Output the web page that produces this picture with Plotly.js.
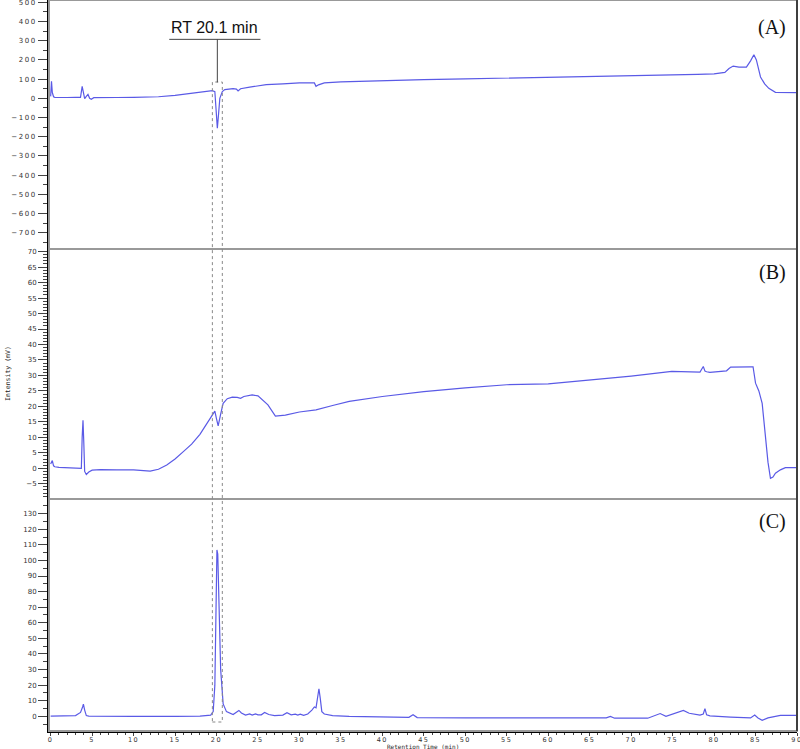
<!DOCTYPE html>
<html>
<head>
<meta charset="utf-8">
<script src="https://cdn.plot.ly/plotly-3.0.1.min.js"></script>
<style>
html,body{margin:0;padding:0;background:#fff;}
#chart{width:800px;height:749px;}
.xtick text,.ytick text{letter-spacing:1.5px;}
</style>
</head>
<body>
<div id="chart"></div>
<script>
// Panel A
const tA = [0,0.1,0.2,0.35,0.5,1,2,3,3.6,3.8,3.95,4.1,4.3,4.5,4.7,4.9,5.2,6,8,10,12,13,15,17,18.5,19.5,19.8,19.95,20.1,20.25,20.4,20.7,21,22,22.4,22.6,22.9,24,26,28,30,31.8,32,32.3,33,35,40,45,50,55,60,65,70,75,78,80,81.3,81.8,82.3,83,83.9,84.4,84.8,85.1,85.6,86.1,86.6,87.4,88,90];
const vA = [10,88,30,8,5,4,4,5,5,62,30,-2,10,20,0,-5,3,4,4,5,6,8,15,25,32,40,35,-60,-156,-80,0,35,45,50,48,38,50,58,71,75,80,80,62,70,80,85,92,97,101,105,109,112,115,120,125,127,135,155,168,162,162,195,227,200,111,75,52,31,30,30];
// Panel B
const tB = [0,0.2,0.35,0.5,1,2,3,3.7,3.8,3.9,4.0,4.1,4.3,4.6,5,6,8,10,12,13,14,15,16,17,18,19,19.8,20.0,20.2,20.5,20.8,21.3,21.9,22.5,22.9,23.3,24.3,25.0,25.5,26.2,27.1,28.3,30,32,34,36,40,45,50,55,60,65,66,70,74.9,78.3,78.7,78.9,79.1,79.5,81.5,82,84.4,84.7,85,85.4,85.8,86.2,86.5,86.8,87.1,87.4,88,88.6,90];
const vB = [1.4,2.5,0.8,0.5,0.3,0.1,-0.1,0,10,15.5,8,-1,-2,-1.2,-0.6,-0.4,-0.5,-0.5,-0.9,-0.3,1.1,3.0,5.4,7.8,11,15,18.5,16,13.7,17.5,21,22.5,23,22.9,22.6,23.2,23.7,23.4,22.1,20.5,16.9,17.2,18.2,18.9,20.3,21.6,23.2,24.8,26,27,27.3,28.5,28.9,29.8,31.3,31.1,32.9,31.4,31.2,31.0,31.5,32.7,32.8,32.8,27.5,25,21,10.2,2,-3.2,-2.8,-1.6,-0.5,0.2,0.2];
// Panel C
const tC = [0,2,3,3.3,3.6,3.85,3.95,4.1,4.3,4.6,6,10,15,18,19.3,19.6,19.8,19.95,20.05,20.15,20.3,20.5,20.8,21.2,22,22.4,22.7,23.0,23.5,24.0,24.3,24.7,25.0,25.4,25.8,26.3,27,28,28.5,29,29.5,29.8,30.1,30.5,31,31.5,31.8,32.0,32.2,32.35,32.5,32.7,33,34,36,40,43.2,43.7,44.2,50,60,67,67.5,68,72,73.0,73.5,74.2,75,75.7,76.3,77,78.3,78.7,78.9,79.1,79.5,82,84.4,84.9,85.3,85.8,86.5,88,90];
const vC = [0.2,0.3,0.5,1.5,2.5,6,7.8,4,0.5,0.2,0.1,0,0,0.2,0.8,3,20,80,106.7,104,75,30,8,3,1.2,2.5,3.8,2.2,0.8,1.6,0.8,1.6,1.0,1.0,2.5,1.2,0.5,0.8,2.3,1.0,1.4,0.8,1.4,0.6,1.5,4,6,5.5,12,17.7,12,3,1.5,0.5,0,-0.5,-0.6,1.0,-0.8,-1.0,-1.2,-1.0,0,-1.2,-1.2,0.5,1.8,0,1.5,2.5,3.8,2.0,0.8,1.5,5.0,1.0,0.3,-0.5,-1.0,0.8,-1.0,-2.5,-1.0,0.6,0.6];

const panelLabels = ['(A)','(B)','(C)'];
const rtLabel = 'RT 20.1 min';
const rtTime = 20.1;
const boxStart = 19.5, boxEnd = 20.7;
const markerLevels = {A: -150, B: 30, C: 70};
const markerTime = 45;
const xTitle = 'Retention Time (min)';
const yTitle = 'Intensity (mV)';

const lineColor = '#5a5ae6';
const magenta = '#e020e0';
const tickFont = {family: 'DejaVu Sans', size: 7, color: '#333'};

const traces = [
  {x: tA, y: vA, xaxis: 'x', yaxis: 'y', mode: 'lines', line: {color: lineColor, width: 1.2}},
  {x: tB, y: vB, xaxis: 'x', yaxis: 'y2', mode: 'lines', line: {color: lineColor, width: 1.2}},
  {x: tC, y: vC, xaxis: 'x', yaxis: 'y3', mode: 'lines', line: {color: lineColor, width: 1.2}},
  {x: [-0.45], y: [markerLevels.A], xaxis: 'x', yaxis: 'y', mode: 'markers', cliponaxis: false, marker: {symbol: 'triangle-right', size: 6, color: magenta}},
  {x: [-0.45], y: [markerLevels.B], xaxis: 'x', yaxis: 'y2', mode: 'markers', cliponaxis: false, marker: {symbol: 'triangle-right', size: 6, color: magenta}},
  {x: [-0.45], y: [markerLevels.C], xaxis: 'x', yaxis: 'y3', mode: 'markers', cliponaxis: false, marker: {symbol: 'triangle-right', size: 6, color: magenta}},
  {x: [markerTime], y: [-11.5], xaxis: 'x', yaxis: 'y3', mode: 'markers', cliponaxis: false, marker: {symbol: 'triangle-up', size: 6, color: magenta}}
];

const yBase = {
  showline: true, linecolor: '#000', linewidth: 2, ticks: 'outside', ticklen: 9, tickwidth: 1, tickcolor: '#444',
  showgrid: false, zeroline: false, tickfont: tickFont, ticklabeloverflow: 'allow',
  minor: {ticks: 'outside', ticklen: 4, tickcolor: '#444', showgrid: false}
};

const dA = [0.6594, 1], dB = [0.3174, 0.6594], dC = [0, 0.3174];

const layout = {
  width: 800, height: 749,
  margin: {l: 49, r: 3, t: 0, b: 18},
  paper_bgcolor: '#fff', plot_bgcolor: '#fff',
  showlegend: false,
  xaxis: {
    anchor: 'y3', range: [-0.2, 90], tickvals: [0,5,10,15,20,25,30,35,40,45,50,55,60,65,70,75,80,85,90],
    showline: true, linecolor: '#000', linewidth: 1.5, ticks: 'outside', ticklen: 3, tickcolor: '#444',
    showgrid: false, zeroline: false, tickfont: {family: 'DejaVu Sans', size: 6.5, color: '#333'}, ticklabeloverflow: 'allow', ticklabelstandoff: -1,
    minor: {ticks: 'outside', ticklen: 2, dtick: 1, tickcolor: '#444', showgrid: false}
  },
  yaxis: Object.assign({}, yBase, {domain: dA, range: [-785, 512], tickvals: [-700,-600,-500,-400,-300,-200,-100,0,100,200,300,400,500], minor: Object.assign({}, yBase.minor, {dtick: 50})}),
  yaxis2: Object.assign({}, yBase, {domain: dB, range: [-9.9, 70.85], dtick: 5, tick0: 0, minor: Object.assign({}, yBase.minor, {dtick: 1})}),
  yaxis3: Object.assign({}, yBase, {domain: dC, range: [-9.4, 139.4], dtick: 10, tick0: 0, minor: Object.assign({}, yBase.minor, {dtick: 5})}),
  shapes: [
    {type: 'rect', xref: 'paper', yref: 'paper', x0: 0, x1: 1, y0: dA[0], y1: dA[1], line: {color: '#999', width: 2}},
    {type: 'rect', xref: 'paper', yref: 'paper', x0: 0, x1: 1, y0: dB[0], y1: dB[1], line: {color: '#999', width: 2}},
    {type: 'rect', xref: 'paper', yref: 'paper', x0: 0, x1: 1, y0: dC[0], y1: dC[1], line: {color: '#999', width: 2}},
    {type: 'line', xref: 'paper', yref: 'paper', x0: 1, x1: 1, y0: 0, y1: 1, line: {color: '#222', width: 1.5}},
    {type: 'rect', xref: 'x', yref: 'paper', x0: boxStart, x1: boxEnd, y0: 0.0123, y1: 0.8878, line: {color: '#888', width: 1, dash: 'dot'}},
    {type: 'line', xref: 'x', yref: 'y', x0: 14.3, x1: 25.3, y0: 307, y1: 307, line: {color: '#444', width: 1}},
    {type: 'line', xref: 'x', yref: 'y', x0: rtTime, x1: rtTime, y0: 307, y1: 83, line: {color: '#444', width: 1}}
  ],
  annotations: [
    {text: rtLabel, xref: 'x', yref: 'y', x: 19.8, y: 312, yanchor: 'bottom', showarrow: false, font: {family: 'Liberation Sans', size: 16, color: '#111'}},
    {text: panelLabels[0], xref: 'paper', yref: 'paper', x: 0.9666, y: 0.963, xanchor: 'center', yanchor: 'middle', showarrow: false, font: {family: 'Liberation Serif', size: 20, color: '#111'}},
    {text: panelLabels[1], xref: 'paper', yref: 'paper', x: 0.9666, y: 0.627, xanchor: 'center', yanchor: 'middle', showarrow: false, font: {family: 'Liberation Serif', size: 20, color: '#111'}},
    {text: panelLabels[2], xref: 'paper', yref: 'paper', x: 0.9666, y: 0.286, xanchor: 'center', yanchor: 'middle', showarrow: false, font: {family: 'Liberation Serif', size: 20, color: '#111'}},
    {text: yTitle, xref: 'paper', yref: 'paper', x: -0.0548, y: (dB[0] + dB[1]) / 2, xanchor: 'center', yanchor: 'middle', textangle: -90, showarrow: false, font: {family: 'DejaVu Sans Mono', size: 6.5, color: '#222'}},
    {text: xTitle, xref: 'paper', yref: 'paper', x: 0.5, y: -0.0215, xanchor: 'center', yanchor: 'middle', showarrow: false, font: {family: 'DejaVu Sans Mono', size: 6, color: '#222'}}
  ]
};

Plotly.newPlot('chart', traces, layout, {displayModeBar: false, staticPlot: true});
</script>
</body>
</html>
